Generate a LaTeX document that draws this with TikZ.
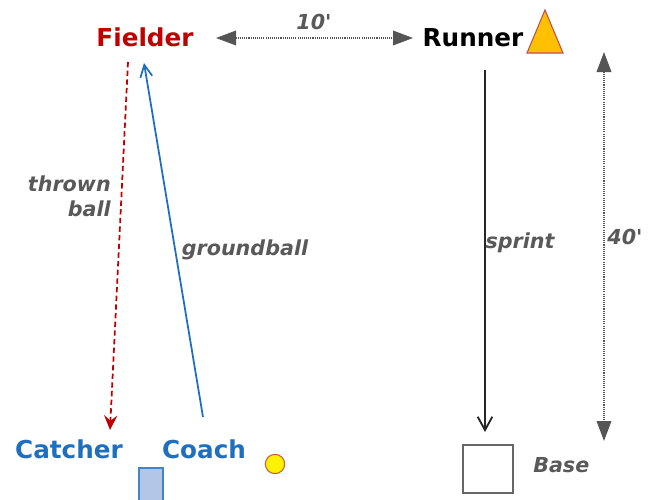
\documentclass[tikz,border=0pt]{standalone}
\usepackage{fontspec}
\setmainfont{DejaVu Sans}
\usetikzlibrary{arrows.meta}
\definecolor{fielderred}{HTML}{C00000}
\definecolor{teamblue}{HTML}{1F6FBF}
\definecolor{labelgray}{HTML}{595959}
\definecolor{dimgray}{HTML}{555555}
\definecolor{coneorange}{HTML}{FFC000}
\definecolor{coneedge}{HTML}{C0504D}
\definecolor{padfill}{HTML}{B4C6E7}
\tikzset{
  player/.style={font=\bfseries\fontsize{18.5}{22}\selectfont, inner sep=0pt},
  note/.style={font=\bfseries\itshape\fontsize{15.5}{19}\selectfont, text=labelgray, inner sep=0pt},
  dimline/.style={dimgray, dash pattern=on 0.8pt off 0.8pt, line width=1pt,
    {Triangle[length=15pt,width=11pt]}-{Triangle[length=15pt,width=11pt]}},
  throwline/.style={fielderred, dash pattern=on 4pt off 2.5pt, line width=1.3pt,
    -{Stealth[length=11pt,width=10pt,inset=4pt]}},
  hitline/.style={teamblue, line width=1.3pt, -{Straight Barb[length=9pt,width=9pt]}},
  runline/.style={black!85, line width=1.4pt, -{Straight Barb[length=10pt,width=11pt]}},
}
\begin{document}
\begin{tikzpicture}[x=0.75pt,y=-0.75pt]
\useasboundingbox (0,0) rectangle (651,500);

% players
\node[player, text=fielderred] (fielder) at (145,37) {Fielder};
\node[player, text=black] (runner) at (473,38) {Runner};
\node[player, text=teamblue] (catcher) at (69,449) {Catcher};
\node[player, text=teamblue] (coach) at (204,449) {Coach};

% cone next to the runner
\draw[coneedge, fill=coneorange, line width=0.8pt] (545,10) -- (563,53) -- (527,53) -- cycle;

% base
\node[draw=gray!80!black, line width=1.3pt, minimum width=37pt, minimum height=36pt, inner sep=0pt]
  (base) at (488,469) {};
\node[note, anchor=west] (baselabel) at (533,465) {Base};

% batting pad and ball
\fill[padfill, draw=teamblue!85, line width=1pt] (139,468) rectangle (163,505);
\node[circle, fill=yellow, draw=coneedge!80!orange, line width=0.8pt, minimum size=14.5pt, inner sep=0pt]
  (ball) at (275,464) {};

% connector end points
\coordinate (throwstart) at (128,62);
\coordinate (throwend) at (110,430);
\coordinate (hitstart) at (203,417);
\coordinate (hitend) at (144,63);
\coordinate (sprintstart) at (485,70);
\coordinate (sprintend) at (485,432);
\coordinate (tenL) at (216,38);
\coordinate (tenR) at (413,38);
\coordinate (fortyT) at (604,52);
\coordinate (fortyB) at (604,441);

% movements
\draw[throwline] (throwstart) -- (throwend);
\draw[hitline] (hitstart) -- (hitend);
\draw[runline] (sprintstart) -- (sprintend);

% distances
\draw[dimline] (tenL) -- (tenR);
\draw[dimline] (fortyT) -- (fortyB);

% labels
\node[note, align=right, anchor=east] (thrownlabel) at (111,196) {thrown\\ball};
\node[note] (groundlabel) at (245,250) {groundball};
\node[note] (sprintlabel) at (520,243) {sprint};
\node[note] (fortylabel) at (625,237) {40\textquotesingle};
\node[note] (tenlabel) at (314,22) {10\textquotesingle};
\end{tikzpicture}
\end{document}
